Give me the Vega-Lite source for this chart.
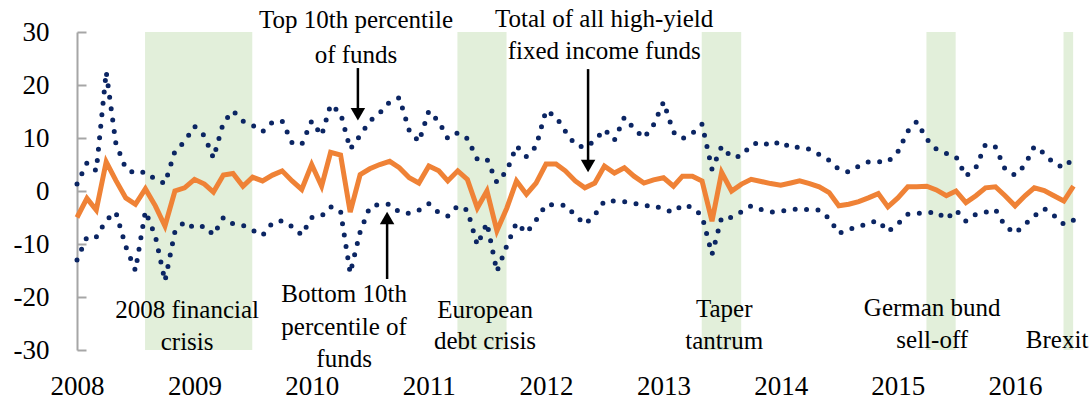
{
  "$schema": "https://vega.github.io/schema/vega-lite/v6.json",
  "width": 1000,
  "height": 318,
  "autosize": {"type": "none"},
  "padding": {"left": 77, "top": 32, "right": 15, "bottom": 50},
  "background": "white",
  "config": {"view": {"stroke": null}, "font": "Liberation Serif"},
  "datasets": {
    "series": [
      {"d":"2008-01-01","top":1.3,"total":-5.0,"bottom":-13.0},
      {"d":"2008-02-01","top":5.3,"total":-1.4,"bottom":-8.7},
      {"d":"2008-03-01","top":3.8,"total":-3.6,"bottom":-8.7},
      {"d":"2008-04-01","top":22.5,"total":5.5,"bottom":-5.5},
      {"d":"2008-05-01","top":9.0,"total":2.0,"bottom":-4.0},
      {"d":"2008-06-01","top":4.2,"total":-1.3,"bottom":-10.5},
      {"d":"2008-07-01","top":3.3,"total":-2.5,"bottom":-15.0},
      {"d":"2008-08-01","top":3.6,"total":0.4,"bottom":-3.8},
      {"d":"2008-09-01","top":2.2,"total":-2.8,"bottom":-8.5},
      {"d":"2008-10-01","top":1.4,"total":-6.6,"bottom":-17.0},
      {"d":"2008-11-01","top":7.5,"total":0.0,"bottom":-7.7},
      {"d":"2008-12-01","top":9.3,"total":0.6,"bottom":-5.8},
      {"d":"2009-01-01","top":12.2,"total":2.2,"bottom":-7.0},
      {"d":"2009-02-01","top":10.4,"total":1.3,"bottom":-6.6},
      {"d":"2009-03-01","top":6.2,"total":-0.2,"bottom":-8.3},
      {"d":"2009-04-01","top":12.9,"total":3.0,"bottom":-5.0},
      {"d":"2009-05-01","top":15.1,"total":3.3,"bottom":-6.2},
      {"d":"2009-06-01","top":13.2,"total":0.9,"bottom":-6.5},
      {"d":"2009-07-01","top":12.4,"total":2.6,"bottom":-7.4},
      {"d":"2009-08-01","top":11.2,"total":1.9,"bottom":-8.4},
      {"d":"2009-09-01","top":13.0,"total":3.0,"bottom":-6.0},
      {"d":"2009-10-01","top":13.2,"total":3.8,"bottom":-5.6},
      {"d":"2009-11-01","top":9.1,"total":1.9,"bottom":-6.7},
      {"d":"2009-12-01","top":8.8,"total":0.3,"bottom":-8.3},
      {"d":"2010-01-01","top":13.2,"total":5.0,"bottom":-5.0},
      {"d":"2010-02-01","top":10.5,"total":0.9,"bottom":-4.7},
      {"d":"2010-03-01","top":16.3,"total":7.3,"bottom":-3.0},
      {"d":"2010-04-01","top":14.7,"total":6.8,"bottom":-3.8},
      {"d":"2010-05-01","top":7.9,"total":-4.0,"bottom":-15.5},
      {"d":"2010-06-01","top":10.5,"total":3.1,"bottom":-7.7},
      {"d":"2010-07-01","top":13.2,"total":4.2,"bottom":-3.0},
      {"d":"2010-08-01","top":14.7,"total":5.0,"bottom":-2.5},
      {"d":"2010-09-01","top":16.8,"total":5.6,"bottom":-2.5},
      {"d":"2010-10-01","top":17.6,"total":4.4,"bottom":-4.0},
      {"d":"2010-11-01","top":11.4,"total":2.5,"bottom":-4.2},
      {"d":"2010-12-01","top":9.3,"total":1.5,"bottom":-3.6},
      {"d":"2011-01-01","top":15.1,"total":4.7,"bottom":-2.4},
      {"d":"2011-02-01","top":13.1,"total":3.8,"bottom":-4.1},
      {"d":"2011-03-01","top":9.9,"total":1.9,"bottom":-4.7},
      {"d":"2011-04-01","top":11.0,"total":3.8,"bottom":-2.8},
      {"d":"2011-05-01","top":9.9,"total":2.2,"bottom":-3.6},
      {"d":"2011-06-01","top":6.0,"total":-3.2,"bottom":-10.2},
      {"d":"2011-07-01","top":6.0,"total":0.0,"bottom":-6.0},
      {"d":"2011-08-01","top":1.6,"total":-7.5,"bottom":-15.2},
      {"d":"2011-09-01","top":3.8,"total":-3.2,"bottom":-10.3},
      {"d":"2011-10-01","top":8.5,"total":1.9,"bottom":-6.0},
      {"d":"2011-11-01","top":6.5,"total":-0.6,"bottom":-7.9},
      {"d":"2011-12-01","top":8.4,"total":1.5,"bottom":-5.5},
      {"d":"2012-01-01","top":15.2,"total":5.1,"bottom":-2.6},
      {"d":"2012-02-01","top":14.0,"total":5.1,"bottom":-2.6},
      {"d":"2012-03-01","top":11.3,"total":3.8,"bottom":-2.7},
      {"d":"2012-04-01","top":8.7,"total":1.9,"bottom":-4.6},
      {"d":"2012-05-01","top":8.2,"total":0.6,"bottom":-6.3},
      {"d":"2012-06-01","top":9.5,"total":1.5,"bottom":-4.5},
      {"d":"2012-07-01","top":11.6,"total":4.7,"bottom":-1.9},
      {"d":"2012-08-01","top":9.6,"total":3.4,"bottom":-1.9},
      {"d":"2012-09-01","top":13.9,"total":4.4,"bottom":-2.0},
      {"d":"2012-10-01","top":11.8,"total":2.8,"bottom":-2.3},
      {"d":"2012-11-01","top":10.0,"total":1.5,"bottom":-2.8},
      {"d":"2012-12-01","top":12.5,"total":2.1,"bottom":-2.7},
      {"d":"2013-01-01","top":16.8,"total":2.5,"bottom":-3.5},
      {"d":"2013-02-01","top":11.1,"total":0.9,"bottom":-4.0},
      {"d":"2013-03-01","top":9.9,"total":2.8,"bottom":-2.6},
      {"d":"2013-04-01","top":10.9,"total":2.8,"bottom":-3.1},
      {"d":"2013-05-01","top":12.6,"total":1.9,"bottom":-4.7},
      {"d":"2013-06-01","top":4.1,"total":-5.7,"bottom":-12.0},
      {"d":"2013-07-01","top":8.4,"total":3.5,"bottom":-5.0},
      {"d":"2013-08-01","top":6.4,"total":0.0,"bottom":-5.0},
      {"d":"2013-09-01","top":6.6,"total":1.3,"bottom":-3.9},
      {"d":"2013-10-01","top":8.7,"total":2.2,"bottom":-2.8},
      {"d":"2013-11-01","top":9.3,"total":1.8,"bottom":-3.5},
      {"d":"2013-12-01","top":8.5,"total":1.4,"bottom":-4.0},
      {"d":"2014-01-01","top":9.4,"total":1.1,"bottom":-3.8},
      {"d":"2014-02-01","top":8.1,"total":1.5,"bottom":-3.6},
      {"d":"2014-03-01","top":8.3,"total":1.9,"bottom":-3.3},
      {"d":"2014-04-01","top":7.9,"total":1.4,"bottom":-3.6},
      {"d":"2014-05-01","top":6.9,"total":0.8,"bottom":-3.6},
      {"d":"2014-06-01","top":5.8,"total":-0.3,"bottom":-5.2},
      {"d":"2014-07-01","top":4.1,"total":-2.8,"bottom":-8.0},
      {"d":"2014-08-01","top":3.6,"total":-2.5,"bottom":-7.2},
      {"d":"2014-09-01","top":4.7,"total":-2.0,"bottom":-6.8},
      {"d":"2014-10-01","top":5.5,"total":-1.3,"bottom":-6.0},
      {"d":"2014-11-01","top":5.5,"total":-0.5,"bottom":-5.6},
      {"d":"2014-12-01","top":5.5,"total":-3.0,"bottom":-7.7},
      {"d":"2015-01-01","top":7.4,"total":-1.3,"bottom":-6.2},
      {"d":"2015-02-01","top":11.3,"total":0.8,"bottom":-4.4},
      {"d":"2015-03-01","top":13.1,"total":0.8,"bottom":-4.2},
      {"d":"2015-04-01","top":9.8,"total":0.9,"bottom":-4.2},
      {"d":"2015-05-01","top":7.9,"total":0.2,"bottom":-3.9},
      {"d":"2015-06-01","top":7.1,"total":-0.9,"bottom":-5.3},
      {"d":"2015-07-01","top":6.5,"total":0.0,"bottom":-3.6},
      {"d":"2015-08-01","top":2.8,"total":-2.2,"bottom":-5.7},
      {"d":"2015-09-01","top":4.4,"total":-0.9,"bottom":-4.4},
      {"d":"2015-10-01","top":8.8,"total":0.6,"bottom":-4.0},
      {"d":"2015-11-01","top":8.3,"total":0.8,"bottom":-3.5},
      {"d":"2015-12-01","top":4.1,"total":-0.9,"bottom":-6.6},
      {"d":"2016-01-01","top":3.0,"total":-2.8,"bottom":-8.0},
      {"d":"2016-02-01","top":4.9,"total":-0.9,"bottom":-6.3},
      {"d":"2016-03-01","top":8.4,"total":0.6,"bottom":-4.7},
      {"d":"2016-04-01","top":7.1,"total":0.1,"bottom":-3.3},
      {"d":"2016-05-01","top":5.2,"total":-0.9,"bottom":-4.6},
      {"d":"2016-06-01","top":4.4,"total":-1.9,"bottom":-6.3},
      {"d":"2016-07-01","top":6.2,"total":0.9,"bottom":-5.5}
    ],
    "bands": [
      {"start":"2008-07-31","end":"2009-06-30"},
      {"start":"2011-03-31","end":"2011-08-31"},
      {"start":"2013-04-30","end":"2013-08-31"},
      {"start":"2015-03-31","end":"2015-06-30"},
      {"start":"2016-05-31","end":"2016-06-30"}
    ],
    "labels": [
      {"d":"2010-05-19","v":30.75,"text":"Top 10th percentile"},
      {"d":"2010-05-19","v":24.15,"text":"of funds"},
      {"d":"2012-06-30","v":30.9,"text":"Total of all high-yield"},
      {"d":"2012-06-30","v":24.9,"text":"fixed income funds"},
      {"d":"2010-04-12","v":-21.0,"text":"Bottom 10th"},
      {"d":"2010-04-12","v":-27.2,"text":"percentile of"},
      {"d":"2010-04-12","v":-33.3,"text":"funds"},
      {"d":"2008-12-09","v":-24.0,"text":"2008 financial"},
      {"d":"2008-12-09","v":-30.0,"text":"crisis"},
      {"d":"2011-06-25","v":-24.0,"text":"European"},
      {"d":"2011-06-25","v":-29.8,"text":"debt crisis"},
      {"d":"2013-07-09","v":-23.8,"text":"Taper"},
      {"d":"2013-07-09","v":-29.8,"text":"tantrum"},
      {"d":"2015-04-18","v":-23.6,"text":"German bund"},
      {"d":"2015-04-18","v":-29.6,"text":"sell-off"},
      {"d":"2016-05-11","v":-29.6,"text":"Brexit"}
    ],
    "arrows": [
      {"d":"2010-05-25","y1":23.2,"y2":15.5,"tip":14.5,"dir":"down"},
      {"d":"2012-05-11","y1":23.0,"y2":5.5,"tip":4.7,"dir":"down"},
      {"d":"2010-08-24","y1":-16.6,"y2":-6.0,"tip":-5.1,"dir":"up"}
    ]
  },
  "layer": [
    {
      "data": {"name": "bands"},
      "mark": {"type": "rect", "color": "#E2EFDA"},
      "encoding": {
        "x": {"field": "start", "type": "temporal", "title": null,
          "scale": {"type": "utc", "domain": [{"year": 2008, "month": 1, "date": 1, "utc": true}, {"year": 2016, "month": 7, "date": 12, "utc": true}]},
          "axis": {"orient": "bottom", "format": "%Y", "domain": false, "ticks": false, "grid": false,
            "values": [
              {"year": 2008, "month": 1, "date": 1, "utc": true},
              {"year": 2009, "month": 1, "date": 1, "utc": true},
              {"year": 2010, "month": 1, "date": 1, "utc": true},
              {"year": 2011, "month": 1, "date": 1, "utc": true},
              {"year": 2012, "month": 1, "date": 1, "utc": true},
              {"year": 2013, "month": 1, "date": 1, "utc": true},
              {"year": 2014, "month": 1, "date": 1, "utc": true},
              {"year": 2015, "month": 1, "date": 1, "utc": true},
              {"year": 2016, "month": 1, "date": 1, "utc": true}
            ],
            "labelFont": "Liberation Serif", "labelFontSize": 27, "labelColor": "black",
            "labelPadding": 23, "labelFlush": false, "labelOverlap": false}},
        "x2": {"field": "end"},
        "y": {"datum": 30, "type": "quantitative", "title": null,
          "scale": {"domain": [-30, 30], "nice": false, "zero": false},
          "axis": {"values": [-30, -20, -10, 0, 10, 20, 30], "grid": false,
            "domain": true, "domainColor": "#a6a6a6", "domainWidth": 2,
            "ticks": true, "tickSize": -9, "tickColor": "#a6a6a6", "tickWidth": 2,
            "labelPadding": 37, "labelFont": "Liberation Serif", "labelFontSize": 27, "labelColor": "black",
            "labelBaseline": "middle",
            "labelExpr": "datum.value < 0 ? '-' + abs(datum.value) : '' + datum.value"}},
        "y2": {"datum": -30}
      }
    },
    {
      "mark": {"type": "rule", "color": "#a6a6a6", "strokeWidth": 2},
      "encoding": {"y": {"datum": 0, "type": "quantitative"}}
    },
    {
      "data": {"name": "series"},
      "mark": {"type": "line", "color": "#0B2563", "strokeWidth": 5, "strokeDash": [0, 11.5], "strokeCap": "round"},
      "encoding": {
        "x": {"field": "d", "type": "temporal", "title": null},
        "y": {"field": "top", "type": "quantitative", "title": null}
      }
    },
    {
      "data": {"name": "series"},
      "mark": {"type": "line", "color": "#0B2563", "strokeWidth": 5, "strokeDash": [0, 11.5], "strokeCap": "round"},
      "encoding": {
        "x": {"field": "d", "type": "temporal", "title": null},
        "y": {"field": "bottom", "type": "quantitative", "title": null}
      }
    },
    {
      "data": {"name": "series"},
      "mark": {"type": "line", "color": "#EF8236", "strokeWidth": 5},
      "encoding": {
        "x": {"field": "d", "type": "temporal", "title": null},
        "y": {"field": "total", "type": "quantitative", "title": null}
      }
    },
    {
      "data": {"name": "labels"},
      "mark": {"type": "text", "font": "Liberation Serif", "fontSize": 25, "align": "center", "baseline": "alphabetic", "color": "black"},
      "encoding": {
        "x": {"field": "d", "type": "temporal", "title": null},
        "y": {"field": "v", "type": "quantitative", "title": null},
        "text": {"field": "text"}
      }
    },
    {
      "data": {"name": "arrows"},
      "mark": {"type": "rule", "color": "black", "strokeWidth": 2.5},
      "encoding": {
        "x": {"field": "d", "type": "temporal", "title": null},
        "y": {"field": "y1", "type": "quantitative", "title": null},
        "y2": {"field": "y2"}
      }
    },
    {
      "data": {"name": "arrows"},
      "mark": {"type": "point", "filled": true, "color": "black", "opacity": 1, "size": 210},
      "encoding": {
        "x": {"field": "d", "type": "temporal", "title": null},
        "y": {"field": "tip", "type": "quantitative", "title": null},
        "shape": {"field": "dir", "type": "nominal", "legend": null,
          "scale": {"domain": ["down", "up"], "range": ["triangle-down", "triangle-up"]}}
      }
    }
  ]
}
